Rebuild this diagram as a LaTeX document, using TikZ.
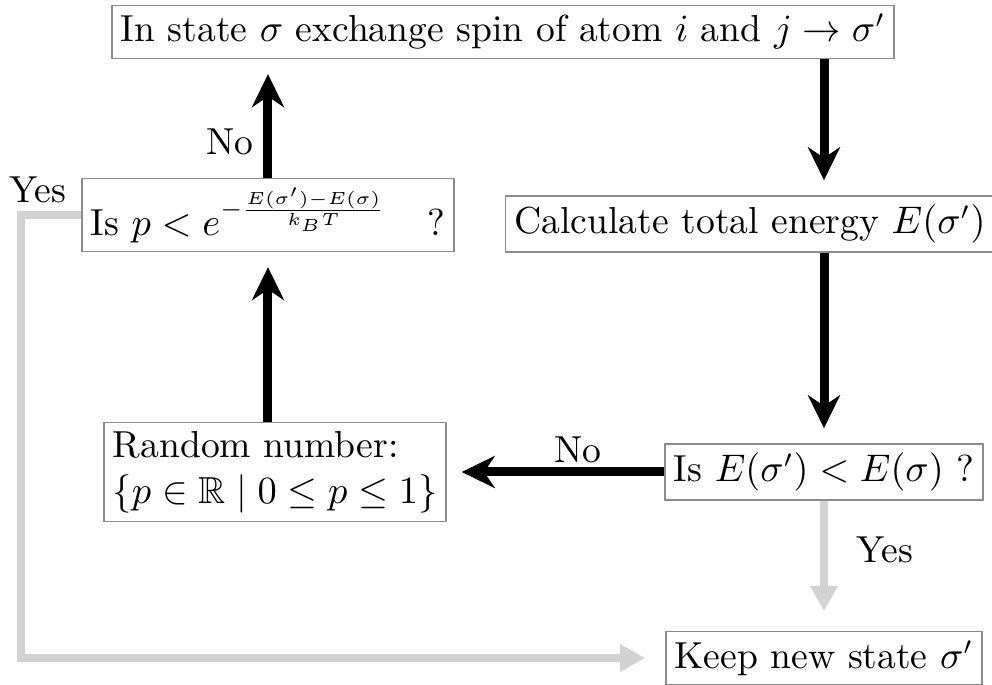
\documentclass[tikz,border=0pt]{standalone}
\usepackage{tikz}
\usetikzlibrary{
    arrows.meta,
    positioning,
    calc
}
\usepackage{amsmath}
\usepackage{amssymb}
\tikzstyle{box} = [
    draw=gray!90,
    thin,
    inner sep=2.5pt,
    align=left
]
\tikzstyle{arrow} = [
    -{Stealth[length=0.33cm, width=0.32cm]},
    line width=0.09cm,
    draw=black,
    shorten >=0.15cm
]
\tikzstyle{yesarrow} = [
    -{Triangle[length=0.25cm, width=0.26cm]},
    line width=0.08cm,
    draw=gray!35,
    shorten >=0.2cm
]

\begin{document}
\begin{tikzpicture}[font=\fontsize{10.7}{13}\selectfont]
        \useasboundingbox (0,0) rectangle (9.92,6.85);

        % Steps of the loop
        \node[box] (swap) at (5.03,6.53) {In state $\sigma$ exchange spin of atom $i$ and $j \rightarrow \sigma'$};
        \node[box] (energy) at (7.50,4.61) {Calculate total energy $E(\sigma')$};
        \node[box] (lower) at (8.24,2.13) {Is $E(\sigma') < E(\sigma)$ ?};
        \node[box] (keep) at (8.24,0.27) {Keep new state $\sigma'$};
        \node[box] (random) at (2.75,2.13) {Random number:\\$\{p \in \mathbb{R} \mid 0 \leq p \leq 1\}$};
        \node[box] (accept) at (2.68,4.70) {Is $p < e^{-\frac{E(\sigma') - E(\sigma)}{k_B T}}$\hspace{1.1em}?};

        % Main loop
        \draw[arrow] (swap.south -| lower.north) -- (energy.north -| lower.north);
        \draw[arrow] (energy.south -| lower.north) -- (lower.north);
        \draw[arrow] (lower.west) -- (random.east);
        \draw[arrow] (random.north -| accept.south) -- (accept.south);
        \draw[arrow] (accept.north) -- (swap.south -| accept.north);

        % Accepted moves
        \draw[yesarrow] (lower.south) -- (keep.north);
        \draw[yesarrow] (accept.west) -- ++(-0.6,0) |- (keep.west);

        % Labels
        \node (no1) at (5.78,2.35) {No};
        \node (no2) at (2.30,5.43) {No};
        \node (yes1) at (8.85,1.35) {Yes};
        \node (yes2) at (0.38,4.95) {Yes};
    \end{tikzpicture}
\end{document}
